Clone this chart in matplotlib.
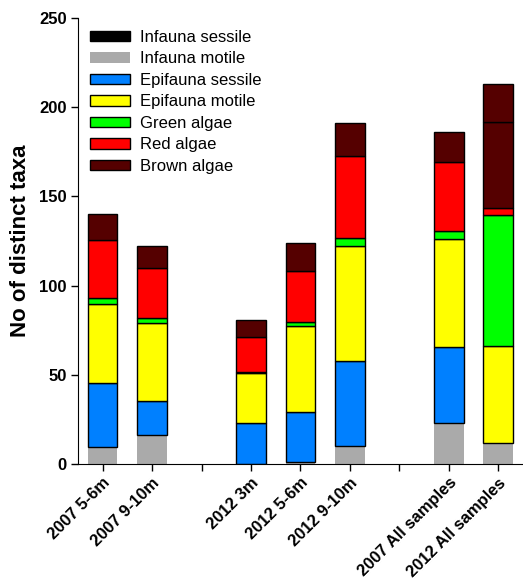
import matplotlib
matplotlib.use("Agg")
import matplotlib.pyplot as plt
import numpy as np

plt.rcParams['font.family'] = ['Liberation Sans', 'DejaVu Sans']

categories = ["2007 5-6m", "2007 9-10m", "", "2012 3m", "2012 5-6m", "2012 9-10m",
              "", "2007 All samples", "2012 All samples"]

infauna_sessile = [0, 0, 0, 0, 0, 0, 0, 0, 0]
infauna_motile = [9.5, 16.3, 0, 0, 1.3, 10.1, 0, 23.2, 11.9]
epifauna_sessile = [36.1, 19.2, 0, 23.2, 28.0, 47.6, 0, 42.6, 0]
epifauna_motile = [43.9, 43.7, 0, 27.6, 48.2, 64.5, 0, 60.5, 54.4]
green_algae = [3.7, 2.5, 0, 0.7, 2.3, 4.3, 0, 4.3, 73.3]
red_algae = [32.4, 28.3, 0, 19.5, 28.4, 46.0, 0, 38.9, 3.7]
brown_algae = [14.4, 12.0, 0, 9.7, 15.5, 18.8, 0, 16.4, 48.4]
brown_algae_extra = [0, 0, 0, 0, 0, 0, 0, 0, 21.1]

series = [
    ("Infauna sessile", infauna_sessile, "#000000", True),
    ("Infauna motile", infauna_motile, "#AAAAAA", False),
    ("Epifauna sessile", epifauna_sessile, "#0080FF", True),
    ("Epifauna motile", epifauna_motile, "#FFFF00", True),
    ("Green algae", green_algae, "#00FF00", True),
    ("Red algae", red_algae, "#FF0000", True),
    ("Brown algae", brown_algae, "#550000", True),
    (None, brown_algae_extra, "#550000", True),
]

fig = plt.figure(figsize=(5.23, 5.83), dpi=100)
ax = fig.add_axes([0.149, 0.204, 0.851, 0.765])

x = np.arange(len(categories))
width = 0.6
bottom = np.zeros(len(categories))
handles = []
for name, vals, color, edged in series:
    v = np.array(vals, dtype=float)
    m = v > 0
    ax.bar(x[m], v[m], width, bottom=bottom[m], color=color,
           edgecolor="black" if edged else color,
           linewidth=1.0 if edged else 0)
    if name is not None:
        h = plt.Rectangle((0, 0), 1, 1, facecolor=color,
                          edgecolor="black" if edged else color,
                          linewidth=1.0 if edged else 0)
        handles.append((h, name))
    bottom += v

ax.set_xlim(-0.5, 8.5)
ax.set_ylim(0, 250)
ax.set_yticks([0, 50, 100, 150, 200, 250])
ax.set_xticks(x)
ax.set_xticklabels(categories, rotation=45, ha="right", rotation_mode="anchor",
                   fontsize=12, fontweight="bold")
for lbl in ax.get_yticklabels():
    lbl.set_fontweight("bold")
    lbl.set_fontsize(12)
ax.tick_params(axis="both", direction="out", length=5, width=1, pad=3)
ax.spines["top"].set_visible(False)
ax.spines["right"].set_visible(False)
ax.set_ylabel("No of distinct taxa", fontsize=16, fontweight="bold", labelpad=6)

leg = ax.legend([h for h, _ in handles], [n for _, n in handles],
                loc="upper left", frameon=False, fontsize=12,
                handlelength=2.4, handleheight=0.6, labelspacing=0.39,
                handletextpad=0.6, borderaxespad=0.3, bbox_to_anchor=(0.0, 1.0))

fig.savefig("out.png", dpi=100)
